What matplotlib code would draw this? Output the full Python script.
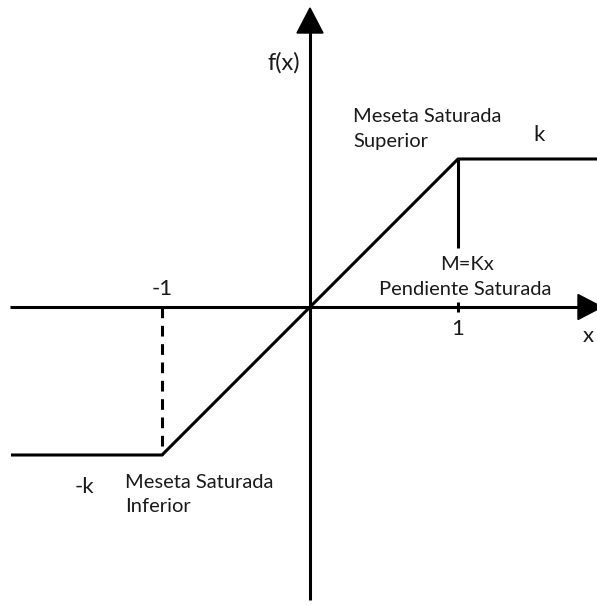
import matplotlib
matplotlib.use("Agg")
import matplotlib.pyplot as plt
from matplotlib.patches import Polygon

# Data (units: x in input units, y in units of k)
curve_x = [-2.01, -1.0, 1.0, 2.1]
curve_y = [-1.0, -1.0, 1.0, 1.0]
k = 1.0
x_ticks = [-1, 1]
x_tick_labels = ["-1", "1"]

plt.rcParams['font.family'] = ['Lato', 'DejaVu Sans']

fig = plt.figure(figsize=(5.97, 6.06), dpi=100)
ax = fig.add_axes([0, 0, 1, 1])
u = 148.0
ax.set_xlim(-310 / u, (597 - 310) / u)
ax.set_ylim((307 - 606) / u, 307 / u)
ax.axis('off')


def px(x):
    return (x - 310) / u


def py(y):
    return (307 - y) / u


lw = 2.2
# axes
ax.plot([px(10), 1.85], [0, 0], color='black', lw=lw, solid_capstyle='butt')
ax.plot([0, 0], [py(600), 1.9], color='black', lw=lw, solid_capstyle='butt')
# arrowheads
ax.add_patch(Polygon([[-13 / u, py(33)], [13 / u, py(33)], [0, py(8)]], closed=True, color='black'))
ax.add_patch(Polygon([[px(578), 12.5 / u], [px(578), -12.5 / u], [px(602), 0]], closed=True, color='black'))

# saturation curve
ax.plot(curve_x, curve_y, color='black', lw=lw, solid_joinstyle='miter')
# vertical solid at x=1
ax.plot([1, 1], [k, py(248)], color='black', lw=lw, solid_capstyle='butt')
# tick at x=1
ax.plot([1, 1], [5 / u, -5 / u], color='black', lw=lw, solid_capstyle='butt')
# dashed at x=-1
ax.plot([-1, -1], [0, -k], color='black', lw=lw, linestyle=(0, (3.5, 2.5)))

tc = '#1a1a1a'
fs = 14.5
fs2 = 16
kw = dict(fontsize=fs, color=tc, va='baseline')
kw2 = dict(fontsize=fs2, color=tc, va='baseline')
ax.text(px(284), py(70), "f(x)", ha='center', fontsize=17, color=tc, va='baseline')
ax.text(px(353), py(122), "Meseta Saturada", ha='left', **kw)
ax.text(px(353), py(147), "Superior", ha='left', **kw)
ax.text(px(539), py(141), "k", ha='center', **kw2)
ax.text(px(467), py(270), "M=Kx", ha='center', **kw)
ax.text(px(465), py(295), "Pendiente Saturada", ha='center', **kw)
ax.text(x_ticks[1], py(335), x_tick_labels[1], ha='center', **kw2)
ax.text(x_ticks[0], py(295), x_tick_labels[0], ha='center', **kw2)
ax.text(px(588), py(342), "x", ha='center', **kw2)
ax.text(px(84), py(493), "-k", ha='center', **kw2)
ax.text(px(125), py(488), "Meseta Saturada", ha='left', **kw)
ax.text(px(125), py(512), "Inferior", ha='left', **kw)

fig.savefig("out.png", dpi=100)
